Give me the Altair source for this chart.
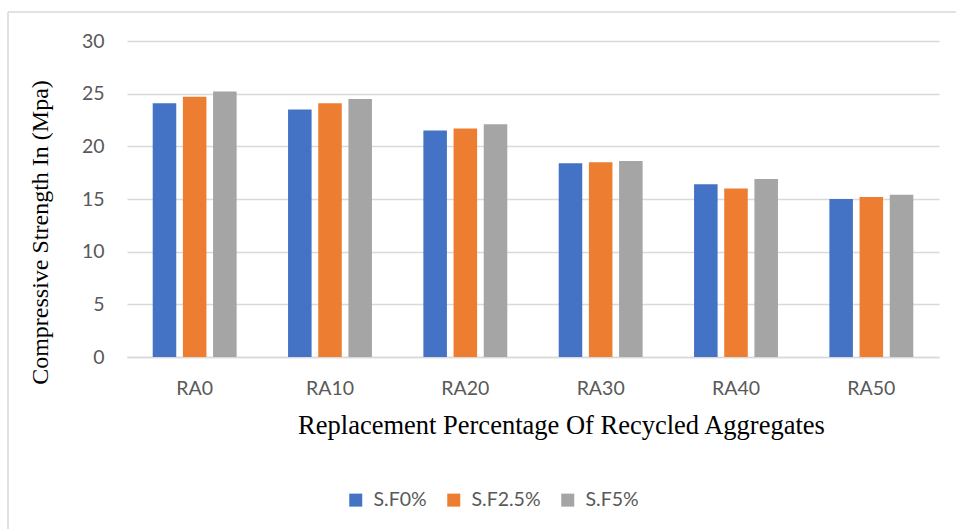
import altair as alt
import pandas as pd

# Compressive strength (MPa) by recycled-aggregate replacement and silica-fume dosage
categories = ["RA0", "RA10", "RA20", "RA30", "RA40", "RA50"]
series_names = ["S.F0%", "S.F2.5%", "S.F5%"]
sf0 = [24.1, 23.5, 21.5, 18.4, 16.4, 15.0]
sf25 = [24.7, 24.1, 21.7, 18.5, 16.0, 15.2]
sf5 = [25.2, 24.5, 22.1, 18.6, 16.9, 15.4]
y_ticks = [0, 5, 10, 15, 20, 25, 30]
colors = ["#4472C4", "#ED7D31", "#A5A5A5"]

rows = []
for name, vals in zip(series_names, [sf0, sf25, sf5]):
    for cat, v in zip(categories, vals):
        rows.append({"group": cat, "series": name, "strength": v})
df = pd.DataFrame(rows)

LABEL_FONT = "Lato"
TITLE_FONT = "Liberation Serif"
GRID = "#D9D9D9"

bars = alt.Chart(df).mark_bar().encode(
    x=alt.X(
        "group:N",
        sort=categories,
        scale=alt.Scale(paddingInner=0.38, paddingOuter=0.19),
        axis=alt.Axis(
            title="Replacement Percentage Of Recycled Aggregates",
            titleFont=TITLE_FONT,
            titleFontSize=26.5,
            titleFontWeight="normal",
            titleColor="#000000",
            titleX=434,
            titleY=76,
            titleAlign="center",
            titleBaseline="alphabetic",
            labelAngle=0,
            labelFont=LABEL_FONT,
            labelFontSize=19.5,
            labelColor="#595959",
            labelPadding=22,
            ticks=False,
            tickSize=0,
            domainColor=GRID,
            domainWidth=1.3,
            grid=False,
        ),
    ),
    xOffset=alt.XOffset(
        "series:N",
        sort=series_names,
        scale=alt.Scale(paddingInner=0.22, paddingOuter=0),
    ),
    y=alt.Y(
        "strength:Q",
        scale=alt.Scale(domain=[0, 30], nice=False),
        axis=alt.Axis(
            title="Compressive Strength In (Mpa)",
            titleFont=TITLE_FONT,
            titleFontSize=24,
            titleFontWeight="normal",
            titleColor="#000000",
            titleAngle=270,
            titleX=-80,
            titleY=191,
            titleAlign="center",
            titleBaseline="alphabetic",
            values=y_ticks,
            labelFont=LABEL_FONT,
            labelFontSize=19.5,
            labelColor="#595959",
            labelPadding=23,
            ticks=False,
            tickSize=0,
            domain=False,
            grid=True,
            gridColor=GRID,
            gridWidth=1.3,
        ),
    ),
    color=alt.Color(
        "series:N",
        sort=series_names,
        scale=alt.Scale(domain=series_names, range=colors),
        legend=alt.Legend(
            title=None,
            orient="none",
            direction="horizontal",
            legendX=219,
            legendY=449,
            symbolType="square",
            symbolSize=169,
            symbolStrokeWidth=0,
            labelFont=LABEL_FONT,
            labelFontSize=19.5,
            labelColor="#595959",
            labelOffset=8,
            columnPadding=17,
            padding=0,
        ),
    ),
)

# Light frame around the chart area (top and left edges)
frame_data = alt.Data(values=[{}])
frame_top = alt.Chart(frame_data).mark_rule(color=GRID, strokeWidth=1.5).encode(
    x=alt.value(-119), x2=alt.value(829), y=alt.value(-29)
)
frame_left = alt.Chart(frame_data).mark_rule(color=GRID, strokeWidth=1.5).encode(
    x=alt.value(-119), y=alt.value(-29), y2=alt.value(488)
)

chart = (
    alt.layer(frame_top, frame_left, bars)
    .properties(
        width=812,
        height=316,
        autosize=alt.AutoSizeParams(type="none"),
        padding={"left": 127, "top": 41, "right": 17, "bottom": 172},
        background="#FFFFFF",
    )
    .configure_view(stroke=None)
)

chart.save("out.html", embed_options={"renderer": "svg", "actions": False})
